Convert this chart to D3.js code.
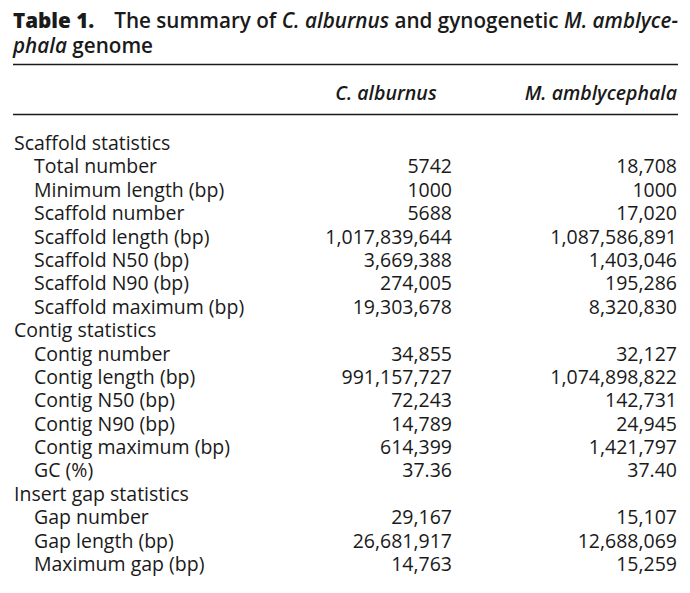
<!DOCTYPE html>
<html>
<head>
<meta charset="utf-8">
<script src="https://cdn.jsdelivr.net/npm/d3@7"></script>
<style>
  body { margin: 0; background: #fff; }
  svg { display: block; }
  text { fill: #1a1a1a; font-family: "Open Sans", "Noto Sans", sans-serif; }
</style>
</head>
<body>
<svg id="tbl" width="690" height="593"></svg>
<script>
// table contents
const rowLabels = [
  "Scaffold statistics", "Total number", "Minimum length (bp)", "Scaffold number",
  "Scaffold length (bp)", "Scaffold N50 (bp)", "Scaffold N90 (bp)", "Scaffold maximum (bp)",
  "Contig statistics", "Contig number", "Contig length (bp)", "Contig N50 (bp)",
  "Contig N90 (bp)", "Contig maximum (bp)", "GC (%)",
  "Insert gap statistics", "Gap number", "Gap length (bp)", "Maximum gap (bp)"
];
const sectionRows = ["Scaffold statistics", "Contig statistics", "Insert gap statistics"];
const columns = ["C. alburnus", "M. amblycephala"];
const alburnus = [
  "", "5742", "1000", "5688", "1,017,839,644", "3,669,388", "274,005", "19,303,678",
  "", "34,855", "991,157,727", "72,243", "14,789", "614,399", "37.36",
  "", "29,167", "26,681,917", "14,763"
];
const amblycephala = [
  "", "18,708", "1000", "17,020", "1,087,586,891", "1,403,046", "195,286", "8,320,830",
  "", "32,127", "1,074,898,822", "142,731", "24,945", "1,421,797", "37.40",
  "", "15,107", "12,688,069", "15,259"
];

const svg = d3.select("#tbl");
const left = 13, right = 678;
const bodySize = 19.5;

// title, two lines
const title = svg.append("g").attr("class", "title");
const t1 = title.append("text").attr("x", left).attr("y", 28).style("font-size", "19px");
t1.append("tspan").style("font-weight", 800).text("Table 1.");
t1.append("tspan").style("font-weight", 600).attr("dx", 20).text("The summary of ");
t1.append("tspan").style("font-weight", 600).style("font-style", "italic").text("C. alburnus");
t1.append("tspan").style("font-weight", 600).text(" and gynogenetic ");
t1.append("tspan").style("font-weight", 600).style("font-style", "italic").text("M. amblyce-");
const t2 = title.append("text").attr("x", left).attr("y", 53).style("font-size", "19px");
t2.append("tspan").style("font-weight", 600).style("font-style", "italic").text("phala");
t2.append("tspan").style("font-weight", 600).text(" genome");

// fit the first title line to the width of the rule
const w1 = t1.node().getBBox().width;
const fs = 19 * (right + 2 - left) / w1;
t1.style("font-size", fs + "px");
t2.style("font-size", fs + "px");

// rules
[64.5, 114.5].forEach(y => {
  svg.append("line")
    .attr("x1", left).attr("x2", right)
    .attr("y1", y).attr("y2", y)
    .attr("stroke", "#1a1a1a").attr("stroke-width", 1.6);
});

// column positions (right edges of numbers)
const colX = d3.scaleOrdinal().domain(columns).range([452, 677]);
const headX = d3.scaleOrdinal().domain(columns).range([386, 677]);
const headAnchor = d3.scaleOrdinal().domain(columns).range(["middle", "end"]);

svg.append("g").selectAll("text")
  .data(columns)
  .enter().append("text")
  .attr("x", d => headX(d))
  .attr("y", 100)
  .attr("text-anchor", d => headAnchor(d))
  .style("font-size", bodySize + "px")
  .style("font-style", "italic")
  .style("font-weight", 600)
  .text(d => d);

// rows
const rowY = d3.scalePoint()
  .domain(d3.range(rowLabels.length))
  .range([150, 571]);

const rows = svg.append("g").selectAll("g.row")
  .data(rowLabels)
  .enter().append("g")
  .attr("class", "row")
  .attr("transform", (d, i) => `translate(0,${rowY(i)})`);

rows.append("text")
  .attr("x", d => sectionRows.includes(d) ? 14 : 34)
  .style("font-size", bodySize + "px")
  .text(d => d);

rows.append("text")
  .attr("x", colX(columns[0]))
  .attr("text-anchor", "end")
  .style("font-size", bodySize + "px")
  .text((d, i) => alburnus[i]);

rows.append("text")
  .attr("x", colX(columns[1]))
  .attr("text-anchor", "end")
  .style("font-size", bodySize + "px")
  .text((d, i) => amblycephala[i]);
</script>
</body>
</html>
